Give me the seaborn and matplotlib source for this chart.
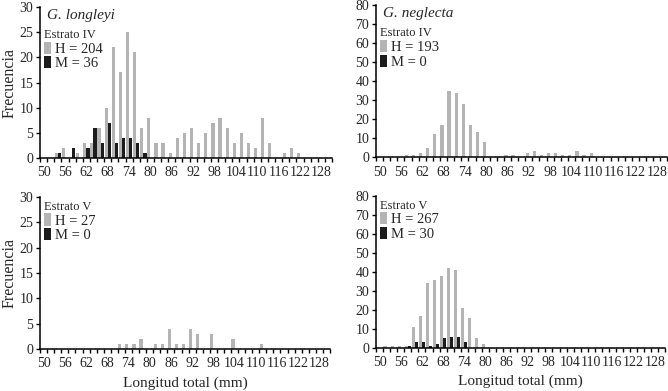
import pandas as pd
import matplotlib.pyplot as plt
import seaborn as sns
from matplotlib.patches import Patch

# length classes (mm), 50..130 in steps of 2
lengths = list(range(50, 132, 2))
tick_labels = [str(v) for v in range(50, 130, 6)]

# G. longleyi, Estrato IV
gl4_h = {54: 1, 56: 2, 60: 1, 62: 3, 64: 3, 66: 6, 68: 10, 70: 22, 72: 17, 74: 25,
         76: 21, 78: 6, 80: 8, 82: 3, 84: 3, 86: 1, 88: 4, 90: 5, 92: 6, 94: 3,
         96: 5, 98: 7, 100: 8, 102: 6, 104: 3, 106: 5, 108: 3, 110: 2, 112: 8,
         114: 3, 118: 1, 120: 2, 122: 1}
gl4_m = {54: 1, 58: 2, 62: 2, 64: 6, 66: 3, 68: 7, 70: 3, 72: 4, 74: 4, 76: 3, 78: 1}

# G. neglecta, Estrato IV
gn4_h = {58: 1, 60: 1, 62: 2, 64: 5, 66: 12, 68: 17, 70: 35, 72: 34, 74: 28, 76: 17,
         78: 13, 80: 8, 86: 1, 88: 1, 92: 2, 94: 3, 96: 1, 98: 2, 100: 2, 102: 1,
         104: 1, 106: 3, 108: 1, 110: 2}
gn4_m = {}

# G. longleyi, Estrato V
gl5_h = {72: 1, 74: 1, 76: 1, 78: 2, 82: 1, 84: 1, 86: 4, 88: 1, 90: 1, 92: 4,
         94: 3, 98: 3, 104: 2, 112: 1}
gl5_m = {}

# G. neglecta, Estrato V
gn5_h = {52: 1, 54: 1, 56: 1, 58: 1, 60: 11, 62: 17, 64: 34, 66: 36, 68: 38, 70: 42,
         72: 41, 74: 21, 76: 16, 78: 5, 80: 2}
gn5_m = {58: 1, 60: 3, 62: 3, 64: 1, 66: 2, 68: 5, 70: 6, 72: 6, 74: 3}

panels = [
    ('G. longleyi', 'Estrato IV', gl4_h, gl4_m, 'H = 204', 'M = 36', 30, 5),
    ('G. neglecta', 'Estrato IV', gn4_h, gn4_m, 'H = 193', 'M = 0', 80, 10),
    (None, 'Estrato V', gl5_h, gl5_m, 'H = 27', 'M = 0', 30, 5),
    (None, 'Estrato V', gn5_h, gn5_m, 'H = 267', 'M = 30', 80, 10),
]

sns.set_style('ticks')
plt.rcParams['font.family'] = ['Liberation Serif', 'DejaVu Serif']

GREY = '#b4b4b4'
BLACK = '#1c1c1c'

fig = plt.figure(figsize=(6.68, 3.91), dpi=100)
boxes = [
    [0.060, 0.596, 0.437, 0.386],
    [0.563, 0.598, 0.436, 0.389],
    [0.060, 0.107, 0.434, 0.389],
    [0.563, 0.110, 0.433, 0.389],
]

for idx, (species, estrato, h, m, hlab, mlab, ymax, ystep) in enumerate(panels):
    ax = fig.add_axes(boxes[idx])
    rows = []
    for L in lengths:
        rows.append({'length': str(L), 'count': h.get(L, 0), 'sex': 'H'})
        rows.append({'length': str(L), 'count': m.get(L, 0), 'sex': 'M'})
    df = pd.DataFrame(rows)
    sns.barplot(data=df, x='length', y='count', hue='sex', hue_order=['H', 'M'],
                order=[str(L) for L in lengths], palette={'H': GREY, 'M': BLACK},
                width=0.9, dodge=True, errorbar=None, linewidth=0, legend=False, ax=ax)

    ax.set_xlim(-0.5, len(lengths) - 0.5)
    ax.set_ylim(0, ymax)
    ax.set_yticks(range(0, ymax + 1, ystep))
    ax.set_xticks(range(0, len(lengths) - 1, 3))
    ax.set_xticklabels(tick_labels)
    ax.set_xticks([i - 0.5 for i in range(len(lengths) + 1)], minor=True)
    ax.tick_params(axis='x', which='major', length=0, labelsize=10, pad=6)
    ax.tick_params(axis='x', which='minor', length=3, width=1, direction='out', color='black')
    ax.tick_params(axis='y', length=3, width=1, labelsize=10, color='black', pad=2)
    for s in ['left', 'bottom']:
        ax.spines[s].set_linewidth(1.1)
        ax.spines[s].set_color('black')
    sns.despine(ax=ax)

    ax.set_xlabel('Longitud total (mm)' if idx >= 2 else '', fontsize=11)
    ax.set_ylabel('Frecuencia' if idx % 2 == 0 else '', fontsize=11.5, labelpad=1)

    if species:
        ax.text(0.025, 0.99, species, style='italic', fontsize=11,
                transform=ax.transAxes, va='top', ha='left')
        anchor = (0.005, 0.875)
    else:
        anchor = (0.005, 0.995)

    handles = [Patch(facecolor=GREY, edgecolor='none', label=hlab),
               Patch(facecolor=BLACK, edgecolor='none', label=mlab)]
    leg = ax.legend(handles=handles, title=estrato, loc='upper left',
                    bbox_to_anchor=anchor, frameon=False, fontsize=10.5,
                    title_fontsize=9, alignment='left', handlelength=0.45,
                    handleheight=0.9, handletextpad=0.25, labelspacing=0.05,
                    borderaxespad=0, borderpad=0.2)

fig.savefig('out.png', dpi=100)
